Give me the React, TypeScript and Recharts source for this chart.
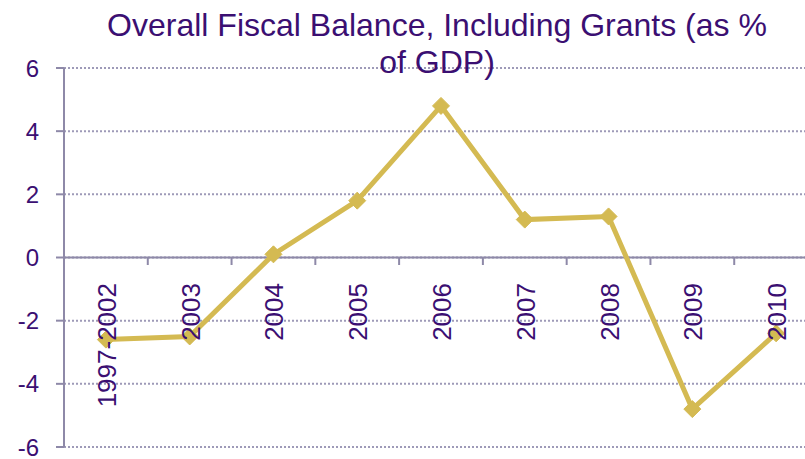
import React from "react";
import { LineChart, Line, XAxis, YAxis, CartesianGrid, ReferenceLine } from "recharts";

const periods = ["1997-2002", "2003", "2004", "2005", "2006", "2007", "2008", "2009", "2010"];
const balance = [-2.6, -2.5, 0.1, 1.8, 4.8, 1.2, 1.3, -4.8, -2.4];
const yTicks = [-6, -4, -2, 0, 2, 4, 6];

const data = periods.map((period, i) => ({ period, balance: balance[i] }));

const TEXT = "#3B0F72";
const AXIS = "#8E89A8";
const GRID = "#9E9AB8";
const GOLD = "#D4BA52";

const W = 830;
const H = 459;
const M = { top: 68, right: 12, bottom: 11, left: 0 };
const Y_AXIS_W = 64;
const plotH = H - M.top - M.bottom;
const plotW = W - M.left - M.right - Y_AXIS_W;
const band = plotW / periods.length;
const zeroY = M.top + plotH * (6 / 12);

const FONT = "'Liberation Sans', Arial, sans-serif";

const Diamond = (props: any) => {
  const { cx, cy } = props;
  if (cx == null || cy == null) return null;
  const r = 8.5;
  return (
    <polygon
      points={`${cx},${cy - r} ${cx + r},${cy} ${cx},${cy + r} ${cx - r},${cy}`}
      fill={GOLD}
      stroke={GOLD}
    />
  );
};

// Category labels hang below the zero line, rotated, with boundary tick marks.
const CategoryTick = (props: any) => {
  const { x, payload } = props;
  const left = x - band / 2;
  return (
    <g>
      {payload.index > 0 && (
        <line x1={left} x2={left} y1={zeroY} y2={zeroY + 7} stroke={AXIS} strokeWidth={2} />
      )}
      <text
        x={0}
        y={0}
        transform={`translate(${x + 10}, ${zeroY + 25}) rotate(-90)`}
        textAnchor="end"
        fill={TEXT}
        fontSize={26}
        fontFamily={FONT}
      >
        {payload.value}
      </text>
    </g>
  );
};

export default function App() {
  return (
    <div
      style={{
        position: "absolute",
        left: 0,
        top: 0,
        width: 805,
        height: 459,
        overflow: "hidden",
        background: "#fff",
      }}
    >
      <LineChart width={W} height={H} data={data} margin={M}>
        <CartesianGrid horizontal vertical={false} stroke={GRID} strokeWidth={2} strokeDasharray="2 2" />
        <XAxis
          dataKey="period"
          height={1}
          axisLine={false}
          tickLine={false}
          interval={0}
          padding={{ left: band / 2, right: band / 2 }}
          tick={<CategoryTick />}
        />
        <YAxis
          width={Y_AXIS_W}
          domain={[-6, 6]}
          ticks={yTicks}
          interval={0}
          axisLine={{ stroke: AXIS, strokeWidth: 2 }}
          tickLine={{ stroke: AXIS, strokeWidth: 2 }}
          tickSize={8}
          tick={{ fill: TEXT, fontSize: 24, fontFamily: FONT }}
          tickMargin={17}
        />
        <ReferenceLine y={0} stroke={AXIS} strokeWidth={2} />
        <Line
          type="linear"
          dataKey="balance"
          stroke={GOLD}
          strokeWidth={5}
          dot={<Diamond />}
          activeDot={false}
          isAnimationActive={false}
        />
      </LineChart>
      <div
        style={{
          position: "absolute",
          left: 0,
          top: 7,
          width: 874,
          textAlign: "center",
          color: TEXT,
          fontFamily: FONT,
          fontSize: 32,
          lineHeight: "37px",
        }}
      >
        Overall Fiscal Balance, Including Grants (as %
        <br />
        of GDP)
      </div>
    </div>
  );
}
